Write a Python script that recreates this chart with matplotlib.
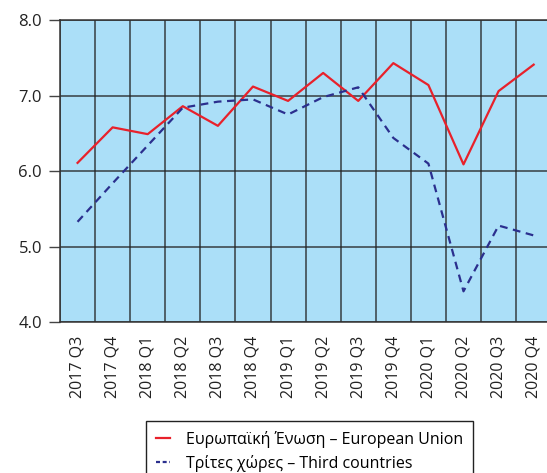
import matplotlib
matplotlib.use("Agg")
import numpy as np
from matplotlib import pyplot as plt

plt.rcParams['font.family'] = ['Open Sans', 'DejaVu Sans']

quarters = ["2017 Q3", "2017 Q4", "2018 Q1", "2018 Q2", "2018 Q3", "2018 Q4",
            "2019 Q1", "2019 Q2", "2019 Q3", "2019 Q4", "2020 Q1", "2020 Q2",
            "2020 Q3", "2020 Q4"]
eu = [6.11, 6.58, 6.49, 6.86, 6.60, 7.12, 6.93, 7.30, 6.93, 7.43, 7.14, 6.09, 7.06, 7.41]
third = [5.33, 5.84, 6.34, 6.84, 6.92, 6.95, 6.75, 6.98, 7.11, 6.44, 6.10, 4.41, 5.28, 5.15]

fig = plt.figure(figsize=(5.47, 4.73), dpi=100)
ax = fig.add_axes([0.1097, 0.3186, 0.898, 0.639])
ax.set_facecolor('#abdff8')

x = np.arange(len(quarters))
ln_eu, = ax.plot(x, eu, color='#e8212b', lw=1.6)
ln_tc, = ax.plot(x, third, color='#2b2f8e', lw=1.6, dashes=(3.5, 2.5))

ax.set_xlim(-0.5, len(quarters) - 0.5)
ax.set_ylim(4, 8)
ax.set_yticks([4, 5, 6, 7, 8])
ax.set_yticklabels(["4.0", "5.0", "6.0", "7.0", "8.0"])
ax.set_xticks(x)
ax.set_xticklabels(quarters, rotation=90)
ax.set_xticks(np.arange(len(quarters) + 1) - 0.5, minor=True)

ax.tick_params(axis='y', length=8, width=1, color='#444444', pad=5,
               labelsize=12, labelcolor='#222222')
ax.tick_params(axis='x', which='major', length=0, pad=10, labelsize=11.5,
               labelcolor='#222222')
ax.tick_params(axis='x', which='minor', length=0)

ax.grid(True, axis='x', which='minor', color='#222222', lw=1.1, alpha=0.85)
ax.grid(True, axis='y', which='major', color='#222222', lw=1.1, alpha=0.85)
ax.set_axisbelow(True)
for s in ax.spines.values():
    s.set_color('#333333')
    s.set_linewidth(1.1)

# legend handles: short lines, dashed one with finer dashes
h_eu = plt.Line2D([], [], color='#e8212b', lw=1.6)
h_tc = plt.Line2D([], [], color='#2b2f8e', lw=1.6, dashes=(1.8, 1.2))
fig.legend([h_eu, h_tc],
           ["Ευρωπαϊκή Ένωση – European Union", "Τρίτες χώρες – Third countries"],
           loc='upper center', bbox_to_anchor=(0.566, 0.110), borderaxespad=0,
           fontsize=11.5, frameon=True, fancybox=False, edgecolor='#222222',
           framealpha=1, handlelength=0.9, handletextpad=1.0, borderpad=0.6,
           labelspacing=0.45)

fig.savefig("out.png", dpi=100)
